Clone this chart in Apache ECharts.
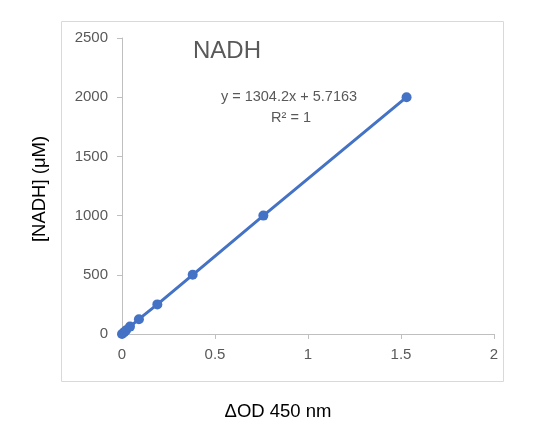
<!DOCTYPE html>
<html><head><meta charset="utf-8">
<script src="https://cdn.jsdelivr.net/npm/echarts@6/dist/echarts.min.js"></script>
<style>html,body{margin:0;padding:0;background:#fff}#c{width:553px;height:432px}</style>
</head><body><div id="c"></div>
<script>
const odValues = [0, 0.012, 0.022, 0.043, 0.091, 0.19, 0.38, 0.76, 1.53];
const nadhValues = [0, 15.6, 31.25, 62.5, 125, 250, 500, 1000, 2000];
const xTicks = [0, 0.5, 1, 1.5, 2];
const yTicks = [0, 500, 1000, 1500, 2000, 2500];
const titleText = 'NADH';
const equationText = 'y = 1304.2x + 5.7163';
const r2Text = 'R² = 1';
const xName = 'ΔOD 450 nm';
const yName = '[NADH] (μM)';

const chart = echarts.init(document.getElementById('c'), null, {renderer: 'canvas'});
const pts = odValues.map((x, i) => [x, nadhValues[i]]);
const lblColor = '#595959';
chart.setOption({
  animation: false,
  grid: {left: 122, right: 59, top: 38, bottom: 98},
  xAxis: {
    type: 'value', min: xTicks[0], max: xTicks[xTicks.length - 1], interval: 0.5,
    axisLine: {show: true, lineStyle: {color: '#bfbfbf', width: 1}},
    axisTick: {show: true, length: 5, lineStyle: {color: '#bfbfbf'}},
    splitLine: {show: false},
    axisLabel: {color: lblColor, fontSize: 15, fontFamily: 'Liberation Sans', margin: 13,
      formatter: v => String(v)}
  },
  yAxis: {
    type: 'value', min: yTicks[0], max: yTicks[yTicks.length - 1], interval: 500,
    axisLine: {show: true, lineStyle: {color: '#bfbfbf', width: 1}},
    axisTick: {show: true, length: 5, lineStyle: {color: '#bfbfbf'}},
    splitLine: {show: false},
    axisLabel: {color: lblColor, fontSize: 15, fontFamily: 'Liberation Sans', margin: 14,
      formatter: v => String(v)}
  },
  series: [{
    type: 'line', data: pts, symbol: 'circle', symbolSize: 10,
    lineStyle: {color: '#4472c4', width: 3},
    itemStyle: {color: '#4472c4'}
  }],
  graphic: [
    {type: 'rect', shape: {x: 61.5, y: 21.5, width: 442, height: 360},
     style: {fill: 'none', stroke: '#d9d9d9', lineWidth: 1}, z: -1},
    {type: 'text', x: 193, y: 51,
     style: {text: titleText, fill: lblColor, font: '24px "Liberation Sans"', textVerticalAlign: 'middle'}},
    {type: 'text', x: 289, y: 97,
     style: {text: equationText, fill: lblColor, font: '14.5px "Liberation Sans"', textAlign: 'center', textVerticalAlign: 'middle'}},
    {type: 'text', x: 291, y: 118,
     style: {text: r2Text, fill: lblColor, font: '14.5px "Liberation Sans"', textAlign: 'center', textVerticalAlign: 'middle'}},
    {type: 'text', x: 278, y: 412,
     style: {text: xName, fill: '#000', font: '18.5px "Liberation Sans"', textAlign: 'center', textVerticalAlign: 'middle'}},
    {type: 'text', x: 40, y: 189, rotation: Math.PI / 2,
     style: {text: yName, fill: '#000', font: '18.5px "Liberation Sans"', textAlign: 'center', textVerticalAlign: 'middle'}}
  ]
});
</script></body></html>
